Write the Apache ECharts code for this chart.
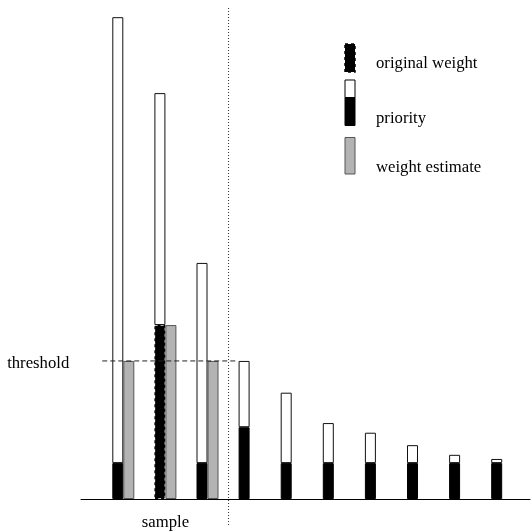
<!DOCTYPE html>
<html>
<head>
<meta charset="utf-8">
<script src="https://cdn.jsdelivr.net/npm/echarts@6/dist/echarts.min.js"></script>
<style>html,body{margin:0;padding:0;background:#fff}#c{width:531px;height:532px}</style>
</head>
<body>
<div id="c"></div>
<script>
// ---- data ----
var categories = ['i1','i2','i3','i4','i5','i6','i7','i8','i9','i10'];
var tickLabels = ['', 'sample', '', '', '', '', '', '', '', ''];
var weight   = [0.26, 1.26, 0.26, 0.52, 0.26, 0.26, 0.26, 0.26, 0.26, 0.26];
var priority = [3.49, 2.94, 1.71, 1.00, 0.77, 0.55, 0.48, 0.39, 0.32, 0.29];
var estimate = [1.00, 1.26, 1.00, null, null, null, null, null, null, null];
var threshold = 1.0;
var sampleSize = 3;
var thresholdEnd = 3.23;   // threshold line runs to the first non-sampled bar

var font = 'Liberation Serif';
var fs = 16.7;
var chart = echarts.init(document.getElementById('c'), null, {renderer:'canvas'});

var blackData = weight.map(function(w, i){
  if (w > threshold) {
    return {value: w, itemStyle: {borderType: [3, 3], borderWidth: 1.5, borderColor: '#000'}};
  }
  return w;
});
var whiteData = priority.map(function(p, i){ return +(p - weight[i]).toFixed(4); });

var gl = 102.25, gr = 7.75;
chart.setOption({
  animation: false,
  grid: [
    {left: gl, right: gr, top: 2, bottom: 33},
    {left: 81, right: 1, top: 2, bottom: 33},
    {left: gl, right: gr, top: 8, bottom: 7}
  ],
  xAxis: [
    {type: 'category', gridIndex: 0, data: categories,
     axisLine: {show: false}, axisTick: {show: false}, splitLine: {show: false},
     axisLabel: {interval: 0, margin: 15, fontFamily: font, fontSize: fs, color: '#000',
       formatter: function(v, i){ return tickLabels[i]; }}},
    {type: 'value', gridIndex: 0, min: 0, max: categories.length, show: false},
    {type: 'value', gridIndex: 1, min: 0, max: 1,
     axisLine: {show: true, onZero: false, lineStyle: {color: '#000', width: 1}},
     axisTick: {show: false}, axisLabel: {show: false}, splitLine: {show: false}},
    {type: 'value', gridIndex: 2, min: 0, max: categories.length, show: false}
  ],
  yAxis: [
    {type: 'value', gridIndex: 0, min: 0, max: 3.6, interval: 1,
     axisLine: {show: false}, axisTick: {show: false}, splitLine: {show: false},
     axisLabel: {margin: 33, color: '#000',
       rich: {t: {fontFamily: font, fontSize: fs, color: '#000', padding: [5, 0, 0, 0]}},
       formatter: function(v){ return Math.abs(v - threshold) < 1e-9 ? '{t|threshold}' : ''; }}},
    {type: 'value', gridIndex: 1, min: 0, max: 1, show: false},
    {type: 'value', gridIndex: 2, min: 0, max: 1, show: false}
  ],
  series: [
    {name: 'original weight', type: 'bar', xAxisIndex: 0, yAxisIndex: 0, stack: 'p',
     barWidth: 11, barGap: '0%', data: blackData,
     itemStyle: {color: '#000', borderColor: '#000', borderWidth: 1}},
    {name: 'priority', type: 'bar', xAxisIndex: 0, yAxisIndex: 0, stack: 'p',
     barWidth: 11, barGap: '0%', data: whiteData,
     itemStyle: {color: '#fff', borderColor: '#111', borderWidth: 1}},
    {name: 'weight estimate', type: 'bar', xAxisIndex: 0, yAxisIndex: 0,
     barWidth: 11, barGap: '0%', data: estimate,
     itemStyle: {color: '#b3b3b3', borderColor: '#555', borderWidth: 1}},
    {type: 'line', xAxisIndex: 1, yAxisIndex: 0, symbol: 'none', silent: true,
     data: [[0, threshold], [thresholdEnd, threshold]],
     lineStyle: {color: '#222', width: 1, type: [5, 3]}, z: 5},
    {type: 'line', xAxisIndex: 3, yAxisIndex: 2, symbol: 'none', silent: true,
     data: [[sampleSize, 0], [sampleSize, 1]],
     lineStyle: {color: '#333', width: 1, type: [1, 2]}, z: 5}
  ],
  graphic: [
    {type: 'rect', shape: {x: 345, y: 44, width: 10, height: 28},
     style: {fill: '#000', stroke: '#000', lineWidth: 1.5, lineDash: [3, 3]}},
    {type: 'rect', shape: {x: 345, y: 97.5, width: 10, height: 28},
     style: {fill: '#000', stroke: '#000', lineWidth: 1}},
    {type: 'rect', shape: {x: 345, y: 80, width: 10, height: 17.5},
     style: {fill: '#fff', stroke: '#000', lineWidth: 1}},
    {type: 'rect', shape: {x: 345, y: 137.5, width: 10, height: 36.5},
     style: {fill: '#b3b3b3', stroke: '#555', lineWidth: 1}},
    {type: 'text', x: 376, y: 64, style: {text: 'original weight', font: fs + 'px "Liberation Serif"', fill: '#000', verticalAlign: 'middle'}},
    {type: 'text', x: 376, y: 119, style: {text: 'priority', font: fs + 'px "Liberation Serif"', fill: '#000', verticalAlign: 'middle'}},
    {type: 'text', x: 376, y: 168, style: {text: 'weight estimate', font: fs + 'px "Liberation Serif"', fill: '#000', verticalAlign: 'middle'}}
  ]
});
</script>
</body>
</html>
